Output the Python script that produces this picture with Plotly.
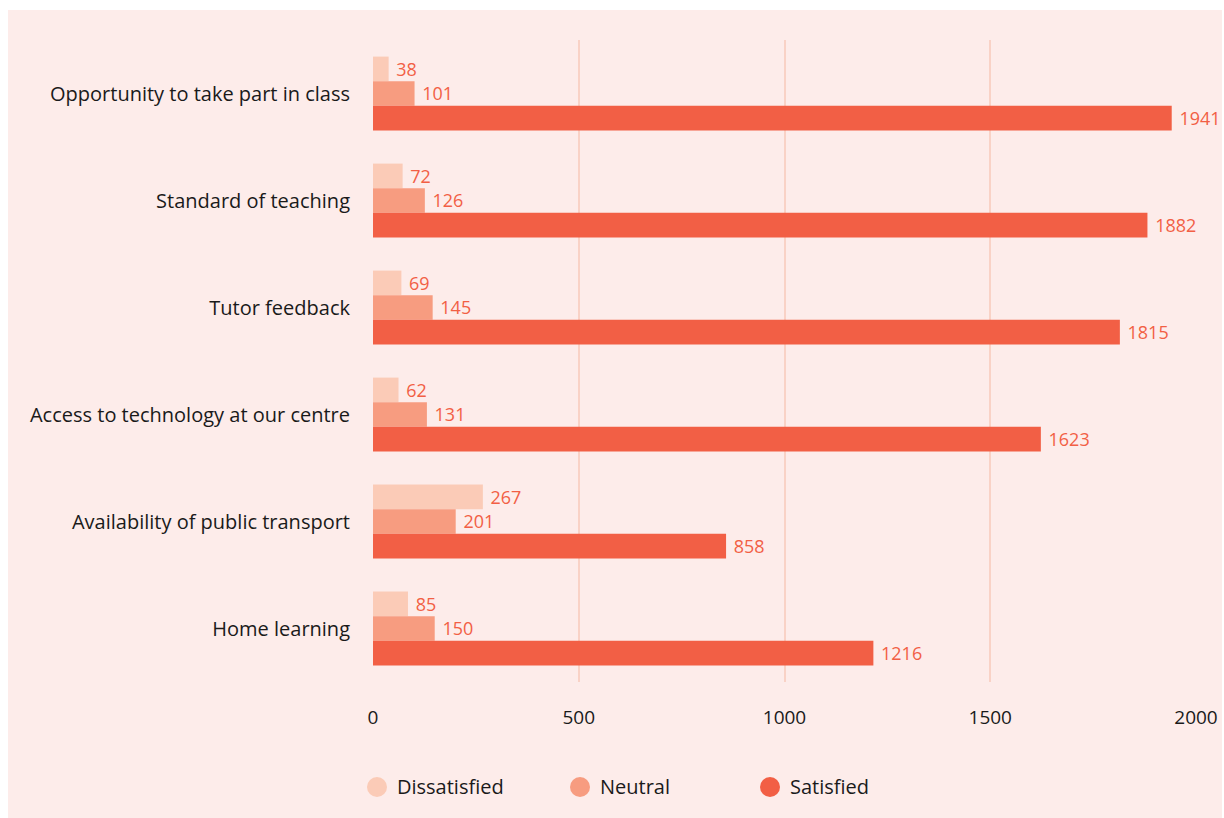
import plotly.graph_objects as go

categories = [
    "Opportunity to take part in class",
    "Standard of teaching",
    "Tutor feedback",
    "Access to technology at our centre",
    "Availability of public transport",
    "Home learning",
]
dissatisfied = [38, 72, 69, 62, 267, 85]
neutral = [101, 126, 145, 131, 201, 150]
satisfied = [1941, 1882, 1815, 1623, 858, 1216]
x_ticks = [0, 500, 1000, 1500, 2000]

series = [
    ("Dissatisfied", dissatisfied, "#FBCBB7"),
    ("Neutral", neutral, "#F79C80"),
    ("Satisfied", satisfied, "#F25F45"),
]

FONT = "Open Sans"
LABEL_COLOR = "#F25F45"
TEXT_COLOR = "#1a1a1a"

W, H = 1224, 818
L, R, T, B = 373, 28, 40, 136
pw, ph = W - L - R, H - T - B


def px_x(p):
    return (p - L) / pw


def px_y(p):
    return (H - B - p) / ph


fig = go.Figure()
for name, vals, color in series:
    fig.add_trace(go.Bar(
        y=categories, x=vals, orientation="h", name=name,
        marker=dict(color=color, line=dict(width=0)),
        text=vals, texttemplate=" %{text}", textposition="outside",
        textfont=dict(family=FONT, size=19, color=LABEL_COLOR),
        cliponaxis=False, showlegend=False,
    ))

# one legend box per series so each entry sits at its own spot
legend_left = [357, 560, 750]
legend_names = ["legend", "legend2", "legend3"]
LEGEND_Y = 786
for (name, vals, color), lg in zip(series, legend_names):
    fig.add_trace(go.Scatter(
        x=[None], y=[None], mode="markers", name=name,
        marker=dict(color=color, size=20, symbol="circle"),
        showlegend=True, legend=lg,
    ))

legend_style = dict(
    orientation="h", xanchor="left", y=px_y(LEGEND_Y), yanchor="middle",
    bgcolor="rgba(0,0,0,0)", itemsizing="trace",
    font=dict(family=FONT, size=20, color=TEXT_COLOR),
)
legends = {
    lg: dict(legend_style, x=px_x(xl))
    for lg, xl in zip(legend_names, legend_left)
}

shapes = [dict(
    type="rect", xref="paper", yref="paper", layer="below",
    x0=px_x(8), x1=px_x(1222), y0=px_y(818), y1=px_y(10),
    fillcolor="#FDECEA", line=dict(width=0),
)]
# slightly larger round swatches behind the legend symbols
for (name, vals, color), xl in zip(series, legend_left):
    shapes.append(dict(
        type="circle", xref="paper", yref="paper", layer="above",
        xsizemode="pixel", ysizemode="pixel",
        xanchor=px_x(xl + 20), yanchor=px_y(LEGEND_Y + 1),
        x0=-10, x1=10, y0=-10, y1=10,
        fillcolor=color, line=dict(width=0),
    ))

fig.update_layout(
    width=W, height=H,
    margin=dict(l=L, r=R, t=T, b=B, pad=0, autoexpand=False),
    paper_bgcolor="white", plot_bgcolor="rgba(0,0,0,0)",
    barmode="group", bargap=0.31, bargroupgap=0,
    font=dict(family=FONT, size=20, color=TEXT_COLOR),
    shapes=shapes,
    xaxis=dict(
        range=[0, 2000], tickvals=x_ticks,
        showgrid=True, gridcolor="#F9D2C6", gridwidth=2,
        zeroline=False, showline=False, ticks="",
        tickfont=dict(family=FONT, size=19, color=TEXT_COLOR),
        ticklabelstandoff=22, fixedrange=True, automargin=False,
    ),
    yaxis=dict(
        autorange="reversed", showgrid=False, zeroline=False,
        showline=False, ticks="", ticklabelstandoff=22, automargin=False,
        tickfont=dict(family=FONT, size=20, color=TEXT_COLOR),
    ),
    **legends,
)

fig.write_html("out.html")
